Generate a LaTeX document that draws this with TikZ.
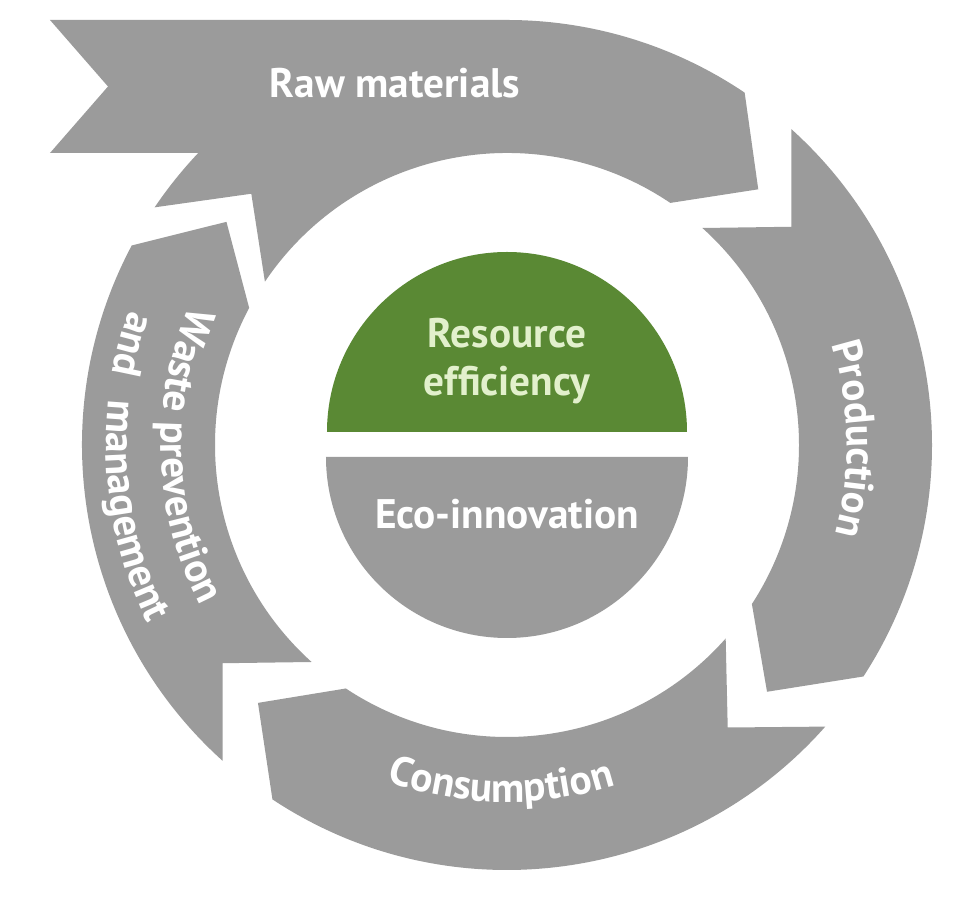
\documentclass[tikz,border=0pt]{standalone}
\usepackage{fontspec}
\setmainfont{PT Sans}
\usepackage{tikz}
\usetikzlibrary{decorations.text}
\definecolor{clrGray}{RGB}{155,155,155}
\definecolor{clrGreen}{RGB}{90,137,52}
\definecolor{clrPale}{RGB}{226,240,204}
\newcommand{\ringfont}{\fontsize{23.5}{27.4}\selectfont\bfseries}
\tikzset{
  segment/.style={fill=clrGray},
  ringlabel/.style={font=\ringfont,text=white,inner sep=0pt},
  curvedlabel/.style={decorate,decoration={text along path,text align=center,
    text color=white,text={|\ringfont|#1}}}
}

\begin{document}
\begin{tikzpicture}[x=0.02cm,y=0.02cm]
  \def\rOut{425}
  \def\rIn{292}
  \def\rMid{358.5}
  \useasboundingbox (-507,-473) rectangle (446,445);
  % ring of four arrows
  \fill[segment] (-457,425) -- (0,425) arc[start angle=90,end angle=56,radius=\rOut]
    -- (45.5:\rMid) -- (56:\rIn) arc[start angle=56,end angle=146,radius=\rIn]
    -- (135.5:\rMid) -- (146:\rOut) arc[start angle=146,end angle=136.6,radius=\rOut]
    -- (-457,\rIn) -- (-399,\rMid) -- cycle;
  \fill[segment] (48:\rOut) arc[start angle=48,end angle=-33,radius=\rOut]
    -- (-43.5:\rMid) -- (-33:\rIn) arc[start angle=-33,end angle=48,radius=\rIn]
    -- (37.5:\rMid) -- cycle;
  \fill[segment] (-41.5:\rOut) arc[start angle=-41.5,end angle=-123.5,radius=\rOut]
    -- (-134:\rMid) -- (-123.5:\rIn) arc[start angle=-123.5,end angle=-41.5,radius=\rIn]
    -- (-52:\rMid) -- cycle;
  \fill[segment] (228:\rOut) arc[start angle=228,end angle=152,radius=\rOut]
    -- (141.5:\rMid) -- (152:\rIn) arc[start angle=152,end angle=228,radius=\rIn]
    -- (217.5:\rMid) -- cycle;
  % ring labels
  \node[ringlabel] (raw) at (-112,362) {Raw materials};
  \path[curvedlabel={Production}] (41:340) arc[start angle=41,end angle=-39,radius=340];
  \path[curvedlabel={Consumption}] (224:357) arc[start angle=224,end angle=314,radius=357];
  \path[curvedlabel={Waste prevention}] (137:346) arc[start angle=137,end angle=227,radius=346];
  \path[curvedlabel={and}] (135:401) arc[start angle=135,end angle=195,radius=401];
  \path[curvedlabel={management}] (160:401) arc[start angle=160,end angle=220,radius=401];
  % centre
  \fill[clrGreen] (-180,13) arc[start angle=180,end angle=0,radius=180] -- cycle;
  \fill[segment] (181,-12) arc[start angle=0,end angle=-180,radius=181] -- cycle;
  \node[ringlabel,text=clrPale,align=center] (resource) at (0,84) {Resource\\efficiency};
  \node[ringlabel] (eco) at (0,-69) {Eco-innovation};
\end{tikzpicture}
\end{document}
